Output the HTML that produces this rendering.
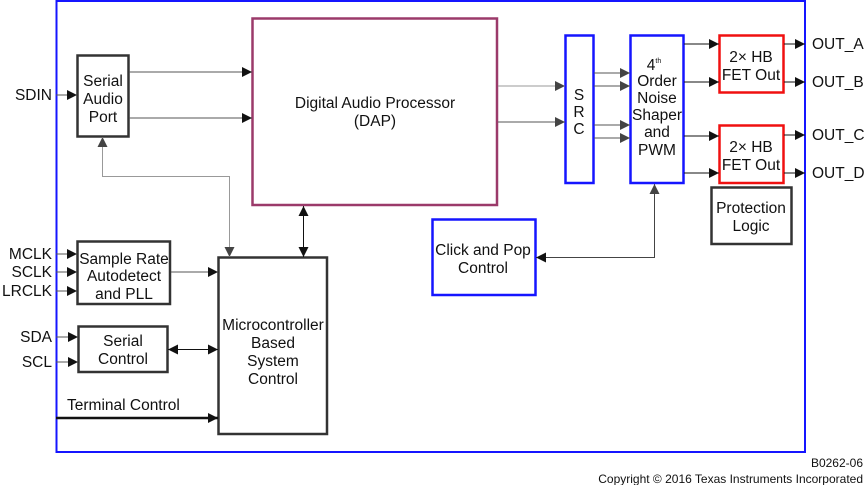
<!DOCTYPE html>
<html><head><meta charset="utf-8"><style>
html,body{margin:0;padding:0;background:#fff;width:866px;height:485px;overflow:hidden}
svg{display:block}
text{font-family:"Liberation Sans",Arial,sans-serif;font-size:15.5px;fill:#111}
text.ft{font-size:12px}
</style></head><body>
<svg width="866" height="485" viewBox="0 0 866 485">
<defs>
<marker id="a" markerUnits="userSpaceOnUse" markerWidth="11" markerHeight="11" refX="10" refY="5.5" orient="auto"><path d="M0,0.5 L10,5.5 L0,10.5z" fill="#111"/></marker>
<marker id="as" markerUnits="userSpaceOnUse" markerWidth="11" markerHeight="11" refX="1" refY="5.5" orient="auto"><path d="M11,0.5 L1,5.5 L11,10.5z" fill="#111"/></marker>
<marker id="g" markerUnits="userSpaceOnUse" markerWidth="11" markerHeight="11" refX="10" refY="5.5" orient="auto"><path d="M0,0.5 L10,5.5 L0,10.5z" fill="#444"/></marker>
<marker id="gs" markerUnits="userSpaceOnUse" markerWidth="11" markerHeight="11" refX="1" refY="5.5" orient="auto"><path d="M11,0.5 L1,5.5 L11,10.5z" fill="#444"/></marker>
</defs>
<rect x="56.5" y="1" width="748.5" height="451" fill="none" stroke="#1515ff" stroke-width="2"/>
<rect x="77.5" y="55.5" width="51" height="81" fill="#fff" stroke="#333" stroke-width="2.5"/>
<rect x="252.5" y="18.5" width="244.5" height="186.5" fill="none" stroke="#9b3a6a" stroke-width="2.5"/>
<rect x="77.5" y="241.5" width="92.5" height="62.5" fill="none" stroke="#333" stroke-width="2.5"/>
<rect x="78.5" y="326.5" width="89" height="45.5" fill="none" stroke="#333" stroke-width="2.5"/>
<rect x="218.5" y="257.5" width="108.5" height="176.5" fill="none" stroke="#333" stroke-width="2.5"/>
<rect x="565.5" y="35.5" width="28" height="147.5" fill="none" stroke="#1515ff" stroke-width="2.5"/>
<rect x="630.5" y="35.5" width="53" height="147.5" fill="none" stroke="#1515ff" stroke-width="2.5"/>
<rect x="719.5" y="35.5" width="64" height="57" fill="none" stroke="#f01010" stroke-width="2.5"/>
<rect x="719.5" y="125.5" width="64" height="57.5" fill="none" stroke="#f01010" stroke-width="2.5"/>
<rect x="711.5" y="187.5" width="80" height="56.5" fill="none" stroke="#333" stroke-width="2.5"/>
<rect x="432.5" y="219.5" width="103" height="75.5" fill="none" stroke="#1515ff" stroke-width="2.5"/>
<g fill="none" stroke="#555" stroke-width="1">
<line x1="56" y1="95" x2="77" y2="95" marker-end="url(#a)"/>
<line x1="129" y1="72" x2="252" y2="72" marker-end="url(#a)"/>
<line x1="129" y1="118" x2="252" y2="118" marker-end="url(#a)"/>
<polyline points="102.5,137 102.5,176.5 229.5,176.5 229.5,257" stroke="#999" marker-start="url(#gs)" marker-end="url(#g)"/>
<line x1="303.5" y1="206" x2="303.5" y2="257" stroke="#111" marker-start="url(#as)" marker-end="url(#a)"/>
<line x1="56" y1="254" x2="77" y2="254" marker-end="url(#a)"/>
<line x1="56" y1="272" x2="77" y2="272" marker-end="url(#a)"/>
<line x1="56" y1="291" x2="77" y2="291" marker-end="url(#a)"/>
<line x1="171" y1="272" x2="218" y2="272" marker-end="url(#a)"/>
<line x1="56" y1="337" x2="78" y2="337" marker-end="url(#a)"/>
<line x1="56" y1="362" x2="78" y2="362" marker-end="url(#a)"/>
<line x1="168" y1="349.5" x2="218" y2="349.5" stroke="#111" marker-start="url(#as)" marker-end="url(#a)"/>
<line x1="56" y1="418" x2="218" y2="418" stroke="#111" stroke-width="2.5" marker-end="url(#a)"/>
<line x1="498" y1="86" x2="565" y2="86" stroke="#999" marker-end="url(#g)"/>
<line x1="498" y1="122" x2="565" y2="122" marker-end="url(#g)"/>
<line x1="594" y1="73" x2="630" y2="73" marker-end="url(#g)"/>
<line x1="594" y1="86" x2="630" y2="86" marker-end="url(#g)"/>
<line x1="594" y1="125" x2="630" y2="125" marker-end="url(#g)"/>
<line x1="594" y1="138" x2="630" y2="138" marker-end="url(#g)"/>
<line x1="684" y1="44" x2="719" y2="44" stroke="#111" marker-end="url(#a)"/>
<line x1="684" y1="82" x2="719" y2="82" stroke="#111" marker-end="url(#a)"/>
<line x1="684" y1="136" x2="719" y2="136" stroke="#111" marker-end="url(#a)"/>
<line x1="684" y1="173" x2="719" y2="173" stroke="#111" marker-end="url(#a)"/>
<line x1="784" y1="44" x2="805" y2="44" stroke="#111" marker-end="url(#a)"/>
<line x1="784" y1="82" x2="805" y2="82" stroke="#111" marker-end="url(#a)"/>
<line x1="784" y1="135" x2="805" y2="135" stroke="#111" marker-end="url(#a)"/>
<line x1="784" y1="173" x2="805" y2="173" stroke="#111" marker-end="url(#a)"/>
<polyline points="536,257.5 654.5,257.5 654.5,184" stroke="#444" marker-start="url(#as)" marker-end="url(#g)"/>
</g>
<g text-anchor="middle">
<text x="103" y="86">Serial</text><text x="103" y="104">Audio</text><text x="103" y="122">Port</text>
<text x="375" y="108">Digital Audio Processor</text><text x="375" y="126">(DAP)</text>
<text x="124" y="264">Sample Rate</text><text x="124" y="281">Autodetect</text><text x="124" y="299">and PLL</text>
<text x="123" y="346">Serial</text><text x="123" y="364">Control</text>
<text x="273" y="330">Microcontroller</text><text x="273" y="348">Based</text><text x="273" y="366">System</text><text x="273" y="384">Control</text>
<text x="579" y="100">S</text><text x="579" y="117">R</text><text x="579" y="134">C</text>
<text x="654" y="70">4<tspan style="font-size:7px" dy="-7">th</tspan></text>
<text x="657" y="86">Order</text><text x="657" y="103">Noise</text><text x="657" y="120">Shaper</text><text x="657" y="137">and</text><text x="657" y="155">PWM</text>
<text x="751" y="62">2× HB</text><text x="751" y="80">FET Out</text>
<text x="751" y="152">2× HB</text><text x="751" y="170">FET Out</text>
<text x="751" y="213">Protection</text><text x="751" y="231">Logic</text>
<text x="483" y="255">Click and Pop</text><text x="483" y="273">Control</text>
</g>
<g text-anchor="end">
<text x="52" y="100">SDIN</text>
<text x="52" y="259">MCLK</text><text x="52" y="277">SCLK</text><text x="52" y="296">LRCLK</text>
<text x="52" y="342">SDA</text><text x="52" y="367">SCL</text>
<text class="ft" x="863" y="467">B0262-06</text>
<text class="ft" x="863" y="483">Copyright © 2016 Texas Instruments Incorporated</text>
</g>
<text x="67" y="410">Terminal Control</text>
<text x="812" y="49">OUT_A</text><text x="812" y="87">OUT_B</text><text x="812" y="140">OUT_C</text><text x="812" y="178">OUT_D</text>
</svg>
</body></html>
